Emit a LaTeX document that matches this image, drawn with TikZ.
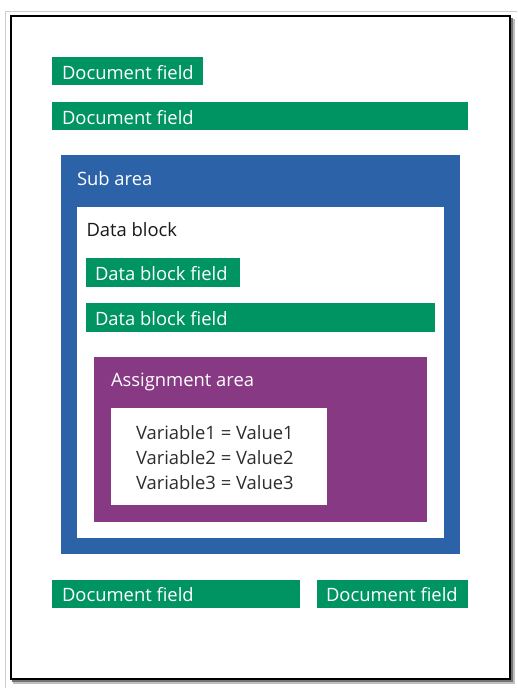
\documentclass[tikz,border=0pt]{standalone}
\usepackage{fontspec}
\setmainfont{Open Sans}
\definecolor{fgreen}{RGB}{0,148,98}
\definecolor{sblue}{RGB}{43,98,168}
\definecolor{apurple}{RGB}{135,57,131}
\definecolor{vtext}{RGB}{45,45,45}
\begin{document}
\begin{tikzpicture}[x=1pt,y=-1pt,
  area/.style={anchor=north west, inner sep=0pt, outer sep=0pt},
  gbox/.style={area, fill=fgreen, minimum height=28pt},
  txt/.style={anchor=base west, inner sep=0pt, outer sep=0pt, font=\fontsize{18.4}{22}\selectfont},
  wtxt/.style={txt, text=white},
  btxt/.style={txt, text=black!90},
  vtxt/.style={txt, text=vtext}]
\useasboundingbox (0,0) rectangle (517,688);
\fill[white] (0,0) rectangle (517,688);
% page frame
\draw[black!20, line width=1pt] (5,688) -- (5,11) -- (517,11);
\fill[black!25] (13,19) rectangle (515,684);
\fill[black!55] (12,18) rectangle (513,682);
\node[area, draw=black, line width=2pt, fill=white, minimum width=499pt, minimum height=663pt] (page) at (11,16) {};
% document fields
\node[gbox, minimum width=151pt] (df1) at (52,57) {};
\node[wtxt] (df1t) at (62,79) {Document field};
\node[gbox, minimum width=416pt] (df2) at (52,102) {};
\node[wtxt] (df2t) at (62,124) {Document field};
% sub area
\node[area, fill=sblue, minimum width=399pt, minimum height=399pt] (sub) at (61,155) {};
\node[wtxt] (subt) at (77,185) {Sub area};
% data block
\node[area, fill=white, minimum width=367pt, minimum height=331pt] (db) at (77,207) {};
\node[btxt] (dbt) at (86.5,236.5) {Data block};
\node[gbox, minimum width=154pt, minimum height=29pt] (dbf1) at (86,258) {};
\node[wtxt] (dbf1t) at (95,280) {Data block field};
\node[gbox, minimum width=349pt, minimum height=29pt] (dbf2) at (86,303) {};
\node[wtxt] (dbf2t) at (95,325) {Data block field};
% assignment area
\node[area, fill=apurple, minimum width=333pt, minimum height=165pt] (asg) at (94,357) {};
\node[wtxt] (asgt) at (111,386.5) {Assignment area};
\node[area, fill=white, minimum width=216pt, minimum height=97pt] (vars) at (111,408) {};
\node[vtxt] (v1) at (136,439) {Variable1 = Value1};
\node[vtxt] (v2) at (136,464) {Variable2 = Value2};
\node[vtxt] (v3) at (136,489) {Variable3 = Value3};
% bottom document fields
\node[gbox, minimum width=248pt] (df3) at (52,580) {};
\node[wtxt] (df3t) at (62,601) {Document field};
\node[gbox, minimum width=151pt] (df4) at (317,580) {};
\node[wtxt] (df4t) at (326,601) {Document field};
\end{tikzpicture}
\end{document}
